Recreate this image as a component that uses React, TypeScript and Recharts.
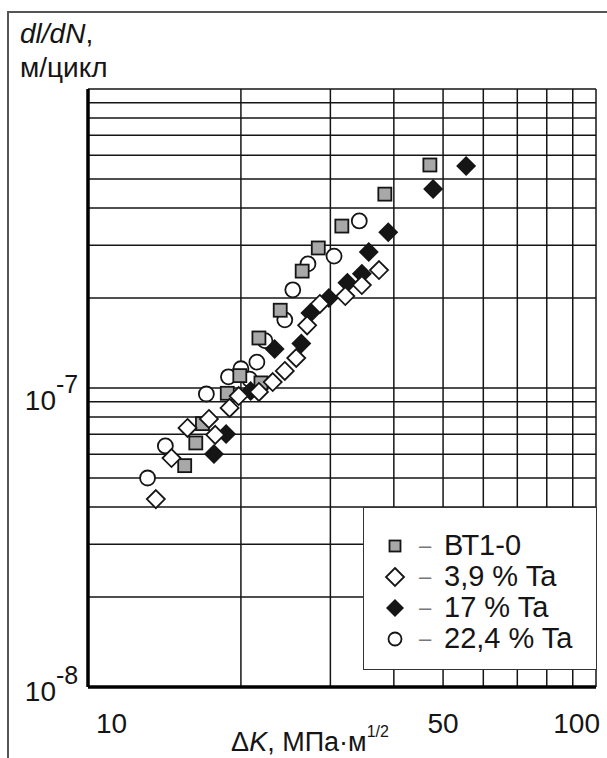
import { CartesianGrid, Legend, Scatter, ScatterChart, XAxis, YAxis } from "recharts"

// ΔK (МПа·м^1/2) and dl/dN (м/цикл)
const vt10K = [15.5, 16.3, 16.8, 18.8, 19.9, 21.9, 21.7, 23.9, 26.4, 28.4, 31.6, 38.4, 47.1]
const vt10Rate = [5.5e-8, 6.55e-8, 7.6e-8, 9.6e-8, 1.1e-7, 1.04e-7, 1.47e-7, 1.82e-7, 2.46e-7, 2.94e-7, 3.48e-7, 4.45e-7, 5.57e-7]

const ta39K = [13.6, 14.6, 15.7, 17.3, 17.8, 19.0, 19.8, 21.7, 23.1, 24.4, 25.7, 27.0, 28.6, 32.1, 34.6, 37.4]
const ta39Rate = [4.25e-8, 5.83e-8, 7.35e-8, 7.88e-8, 6.97e-8, 8.58e-8, 9.4e-8, 9.7e-8, 1.047e-7, 1.14e-7, 1.26e-7, 1.62e-7, 1.91e-7, 2.03e-7, 2.21e-7, 2.48e-7]

const ta17K = [17.7, 18.7, 20.9, 23.3, 26.3, 27.4, 29.8, 32.4, 34.6, 35.7, 39.0, 47.8, 55.5]
const ta17Rate = [6.02e-8, 7.02e-8, 9.77e-8, 1.35e-7, 1.41e-7, 1.78e-7, 2.0e-7, 2.25e-7, 2.41e-7, 2.85e-7, 3.32e-7, 4.63e-7, 5.53e-7]

const ta224K = [13.1, 14.2, 17.1, 18.9, 20.0, 20.8, 21.5, 22.3, 24.4, 25.3, 27.1, 30.5, 34.2]
const ta224Rate = [5.0e-8, 6.4e-8, 9.55e-8, 1.09e-7, 1.16e-7, 1.07e-7, 1.22e-7, 1.44e-7, 1.69e-7, 2.13e-7, 2.6e-7, 2.76e-7, 3.62e-7]

const xTicks = [10, 20, 30, 40, 50, 60, 70, 80, 90, 100]
const xLabels = [10, 50, 100]
const yTicks = [
  1e-8, 2e-8, 3e-8, 4e-8, 5e-8, 6e-8, 7e-8, 8e-8, 9e-8,
  1e-7, 2e-7, 3e-7, 4e-7, 5e-7, 6e-7, 7e-7, 8e-7, 9e-7, 1e-6,
]
const yLabels = [-8, -7]

const seriesNames = ["ВТ1-0", "3,9 % Ta", "17 % Ta", "22,4 % Ta"]

const toPoints = (k: number[], r: number[]) => k.map((dk, i) => ({ dk, rate: r[i] }))

const FONT = "'Liberation Sans', Arial, sans-serif"
const INK = "#151515"

const Square = ({ cx, cy, s = 13 }: any) => (
  <rect x={cx - s / 2} y={cy - s / 2} width={s} height={s} fill="#a8a8a8" stroke={INK} strokeWidth={1.8} />
)
const OpenDiamond = ({ cx, cy, r = 9 }: any) => (
  <polygon
    points={`${cx},${cy - r} ${cx + r},${cy} ${cx},${cy + r} ${cx - r},${cy}`}
    fill="#fff"
    stroke={INK}
    strokeWidth={1.8}
  />
)
const FilledDiamond = ({ cx, cy, r = 10 }: any) => (
  <polygon points={`${cx},${cy - r} ${cx + r},${cy} ${cx},${cy + r} ${cx - r},${cy}`} fill={INK} />
)
const Ring = ({ cx, cy, r = 7.5 }: any) => (
  <circle cx={cx} cy={cy} r={r} fill="#fff" stroke={INK} strokeWidth={1.8} />
)

const XTick = ({ x, y, payload }: any) => {
  const v = payload.value
  if (!xLabels.includes(v)) return <g />
  const anchor = v === 10 ? "start" : v === 100 ? "end" : "middle"
  const dx = v === 10 ? 8 : v === 100 ? 4 : 0
  return (
    <text x={x + dx} y={y + 38} textAnchor={anchor} fontSize={28} fontFamily={FONT} fill={INK}>
      {v}
    </text>
  )
}

const YTick = ({ x, y, payload }: any) => {
  const p = Math.round(Math.log10(payload.value))
  if (Math.abs(Math.log10(payload.value) - p) > 1e-6 || !yLabels.includes(p)) return <g />
  const base = p === -8 ? y + 14 : y + 22
  return (
    <g>
      <text x={x - 24} y={base} textAnchor="end" fontSize={28} fontFamily={FONT} fill={INK}>
        10
      </text>
      <text x={x - 24} y={base - 17} textAnchor="start" fontSize={25} fontFamily={FONT} fill={INK}>
        {p}
      </text>
    </g>
  )
}

const XTitle = ({ viewBox }: any) => {
  const cx = viewBox.x + 222
  return (
    <text x={cx} y={viewBox.y + 64} textAnchor="middle" fontSize={27} fontFamily={FONT} fill={INK}>
      Δ<tspan fontStyle="italic">K</tspan>, МПа·м
      <tspan dy={-14} fontSize={16}>
        1/2
      </tspan>
    </text>
  )
}

const legendMarks = [Square, OpenDiamond, FilledDiamond, Ring]

const LegendBox = () => (
  <div style={{ padding: "22px 0 0 20px", fontFamily: FONT, fontSize: 29, color: INK }}>
    {seriesNames.map((name, i) => {
      const Mark = legendMarks[i]
      const small = i === 0 ? { s: 11 } : i === 3 ? { r: 6.5 } : { r: 9 }
      return (
        <div key={name} style={{ display: "flex", alignItems: "center", height: 31, lineHeight: "31px" }}>
          <svg width={22} height={24}>
            <Mark cx={11} cy={12} {...small} />
          </svg>
          <span style={{ width: 38, textAlign: "center", color: "#777", fontSize: 22 }}>–</span>
          <span>{name}</span>
        </div>
      )
    })}
  </div>
)

export default function App() {
  return (
    <div style={{ position: "absolute", left: 0, top: 0, width: 607, height: 758, background: "#fff", overflow: "hidden" }}>
      <div
        style={{
          position: "absolute",
          left: 7,
          top: 11,
          width: 700,
          height: 800,
          borderLeft: "2px solid #555",
          borderTop: "2px solid #555",
        }}
      />
      <div style={{ position: "absolute", left: 20, top: 17, fontFamily: FONT, fontSize: 28, color: INK, lineHeight: "34px" }}>
        <div>
          <i>dl/dN</i>,
        </div>
        <div>м/цикл</div>
      </div>
      <div style={{ position: "absolute", left: 0, top: 0 }}>
        <ScatterChart width={607} height={758} margin={{ top: 89, right: 11, bottom: 0, left: 0 }}>
          <CartesianGrid stroke={INK} strokeWidth={1.5} fill="none" />
          <XAxis
            dataKey="dk"
            type="number"
            scale="log"
            domain={[10, 100]}
            ticks={xTicks}
            interval={0}
            allowDataOverflow
            height={71}
            tickLine={false}
            axisLine={{ stroke: "#000", strokeWidth: 3.5 }}
            tick={<XTick />}
            label={<XTitle />}
          />
          <YAxis
            dataKey="rate"
            type="number"
            scale="log"
            domain={[1e-8, 1e-6]}
            ticks={yTicks}
            interval={0}
            allowDataOverflow
            width={88}
            tickLine={false}
            axisLine={{ stroke: "#000", strokeWidth: 3.5 }}
            tick={<YTick />}
          />
          <Scatter name={seriesNames[3]} data={toPoints(ta224K, ta224Rate)} shape={<Ring />} isAnimationActive={false} />
          <Scatter name={seriesNames[0]} data={toPoints(vt10K, vt10Rate)} shape={<Square />} isAnimationActive={false} />
          <Scatter name={seriesNames[2]} data={toPoints(ta17K, ta17Rate)} shape={<FilledDiamond />} isAnimationActive={false} />
          <Scatter name={seriesNames[1]} data={toPoints(ta39K, ta39Rate)} shape={<OpenDiamond />} isAnimationActive={false} />
          <Legend
            layout="vertical"
            align="center"
            verticalAlign="middle"
            content={<LegendBox />}
            wrapperStyle={{
              left: 363,
              top: 507,
              width: 234,
              height: 163,
              background: "#fff",
              border: `1.5px solid #333`,
              boxSizing: "border-box",
            }}
          />
        </ScatterChart>
      </div>
    </div>
  )
}
